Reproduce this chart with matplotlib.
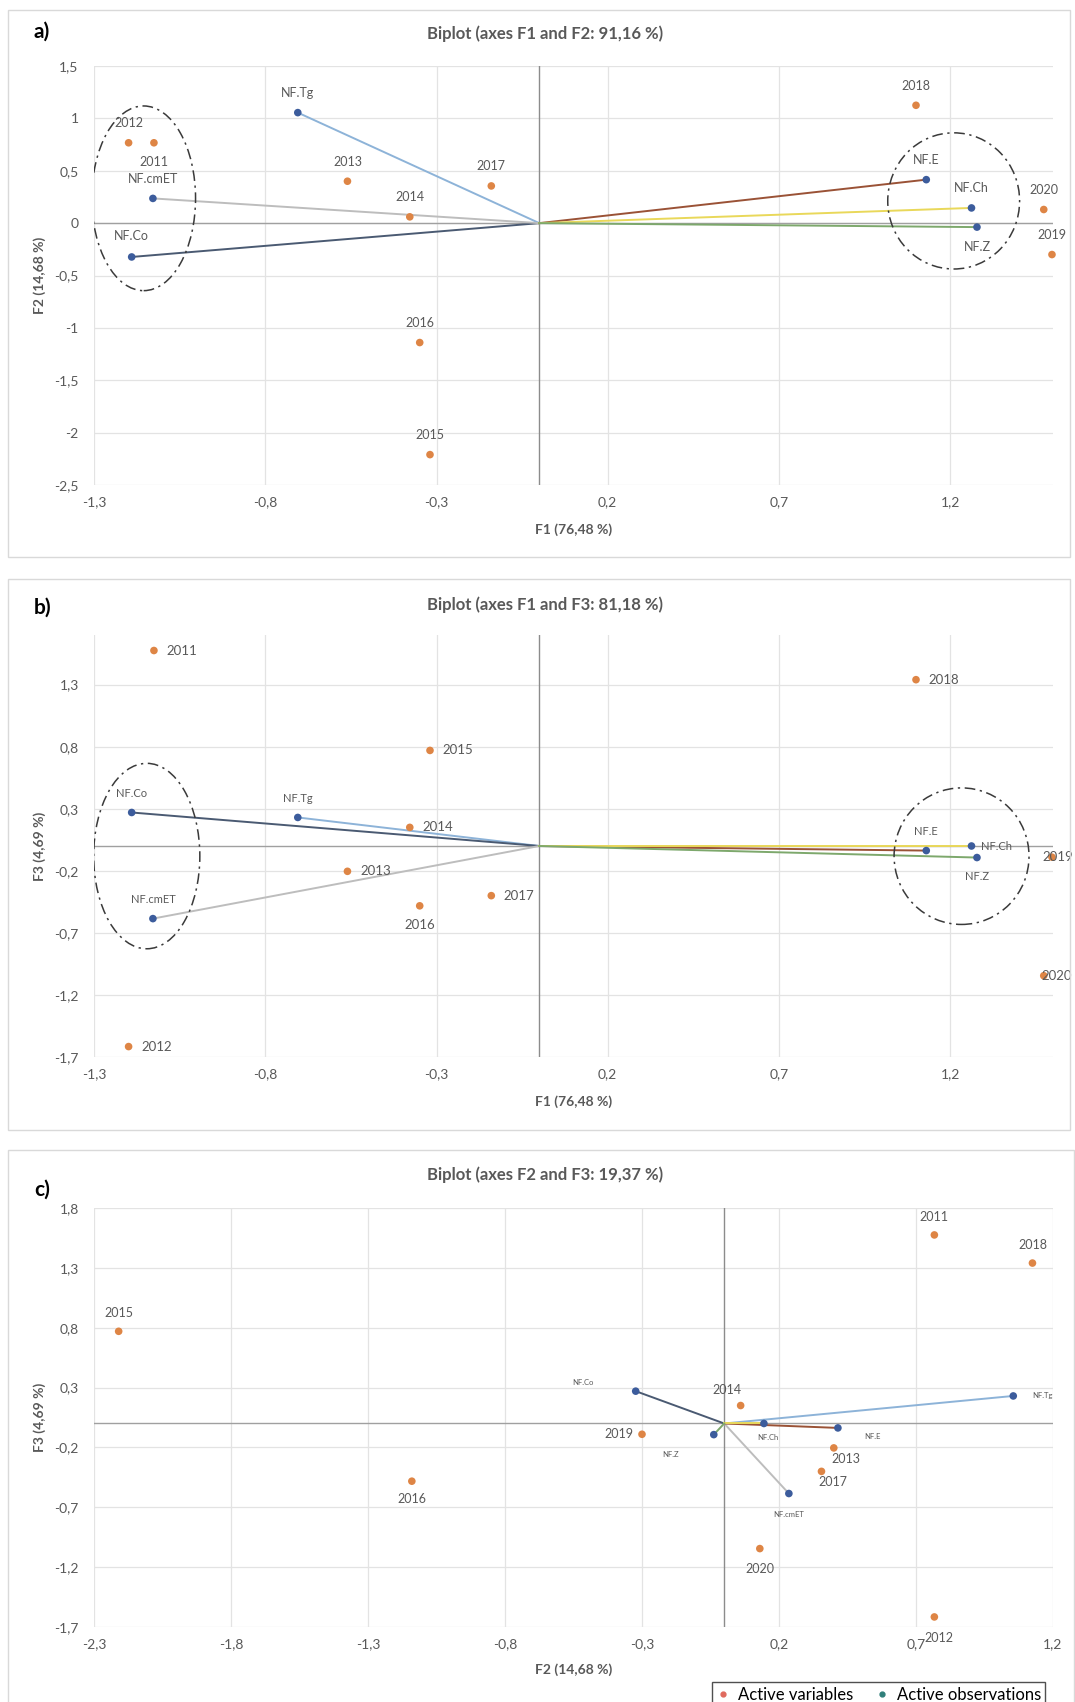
import matplotlib
matplotlib.use('Agg')
import matplotlib.pyplot as plt
import numpy as np
from matplotlib.patches import Ellipse, Rectangle
from matplotlib.lines import Line2D
from matplotlib.ticker import FuncFormatter

plt.rcParams['font.family'] = ['Lato', 'DejaVu Sans']

# observations (years) on the three factors
years = ['2011', '2012', '2013', '2014', '2015', '2016', '2017', '2018', '2019', '2020']
obs_f1 = [-1.125, -1.199, -0.560, -0.378, -0.319, -0.349, -0.140, 1.100, 1.497, 1.473]
obs_f2 = [0.767, 0.767, 0.400, 0.060, -2.210, -1.140, 0.355, 1.125, -0.300, 0.130]
obs_f3 = [1.575, -1.616, -0.204, 0.150, 0.770, -0.482, -0.400, 1.340, -0.090, -1.045]

# variables on the three factors
variables = ['NF.Tg', 'NF.Co', 'NF.cmET', 'NF.E', 'NF.Ch', 'NF.Z']
var_f1 = [-0.705, -1.190, -1.128, 1.130, 1.262, 1.278]
var_f2 = [1.055, -0.323, 0.236, 0.415, 0.145, -0.038]
var_f3 = [0.230, 0.270, -0.585, -0.037, 0.000, -0.093]

titles = ['Biplot (axes F1 and F2: 91,16 %)',
          'Biplot (axes F1 and F3: 81,18 %)',
          'Biplot (axes F2 and F3: 19,37 %)']
xlabels = ['F1 (76,48 %)', 'F1 (76,48 %)', 'F2 (14,68 %)']
ylabels = ['F2 (14,68 %)', 'F3 (4,69 %)', 'F3 (4,69 %)']
panel_tags = ['a)', 'b)', 'c)']

OBS_COL = '#DE8545'
VAR_COL = '#3C5C9C'
GRID = '#E3E3E3'
TXT = '#595959'
vec_colors = {'NF.Tg': '#8DB3D8', 'NF.Co': '#4A5A72', 'NF.cmET': '#BDBDBD',
              'NF.E': '#9A5236', 'NF.Ch': '#E9D85A', 'NF.Z': '#7DA86C'}

W, H = 1075, 1702
fig = plt.figure(figsize=(W / 100, H / 100), dpi=100)


def px_box(l, t, r, b):
    return [l / W, 1 - b / H, (r - l) / W, (b - t) / H]


def fmt(v, pos):
    return f"{round(v, 2) + 0.0:g}".replace('.', ',')


def ticks(lo, hi):
    return np.round(np.arange(lo, hi + 1e-6, 0.5), 2)


# label offsets in points: name -> (dx, dy, ha)
up = (0, 14, 'center')
down = (0, -14, 'center')
offs_a = {n: up for n in years + variables}
offs_a.update({'2011': down, 'NF.Z': down, 'NF.Co': (0, 15, 'center')})
right = (9, 0, 'left')
offs_b = {n: right for n in years}
offs_b.update({n: up for n in variables})
offs_b.update({'2016': down, 'NF.Z': down, 'NF.Ch': (7, 0, 'left'),
               '2020': (-1.5, 0, 'left'), '2019': (-7, 0, 'left')})
offs_c = {'2015': (0, 13, 'center'), '2016': (0, -13, 'center'), '2011': (0, 13, 'center'),
          '2018': (0, 13, 'center'), '2014': (-10, 11, 'center'), '2019': (-6, 0, 'right'),
          '2013': (9, -8, 'center'), '2017': (8, -8, 'center'), '2020': (0, -15, 'center'),
          '2012': (3, -15, 'center'), 'NF.Co': (-38, 6, 'center'), 'NF.Tg': (14, 0, 'left'),
          'NF.Ch': (3, -10, 'center'), 'NF.E': (25, -6, 'center'), 'NF.Z': (-31, -14, 'center'),
          'NF.cmET': (0, -15, 'center')}

panels = [
    dict(box=(94, 66, 1053, 485), frame=(8, 10, 1070, 557), ox=obs_f1, oy=obs_f2,
         vx=var_f1, vy=var_f2, xlim=(-1.3, 1.5), ylim=(-2.5, 1.5),
         xt=ticks(-1.3, 1.5), yt=ticks(-2.5, 1.5), offs=offs_a,
         obs_fs=9, var_fs=9, tag_y=32, title_y=34, xlab_y=530,
         ellipses=[(-1.155, 0.237, 0.303, 1.763), (1.21, 0.212, 0.385, 1.30)]),
    dict(box=(94, 635, 1053, 1057), frame=(8, 579, 1070, 1130), ox=obs_f1, oy=obs_f3,
         vx=var_f1, vy=var_f3, xlim=(-1.3, 1.5), ylim=(-1.7, 1.7),
         xt=ticks(-1.3, 1.5), yt=ticks(-1.7, 1.7), offs=offs_b,
         obs_fs=9.5, var_fs=8, tag_y=608, title_y=605, xlab_y=1102,
         ellipses=[(-1.146, -0.081, 0.31, 1.494), (1.233, -0.082, 0.394, 1.10)]),
    dict(box=(94, 1208, 1053, 1627), frame=(8, 1150, 1074, 1712), ox=obs_f2, oy=obs_f3,
         vx=var_f2, vy=var_f3, xlim=(-2.3, 1.2), ylim=(-1.7, 1.8),
         xt=ticks(-2.3, 1.2), yt=ticks(-1.7, 1.8), offs=offs_c,
         obs_fs=9, var_fs=5.5, tag_y=1190, title_y=1175, xlab_y=1670,
         ellipses=[]),
]

for i, p in enumerate(panels):
    l, t, r, b = p['frame']
    fig.patches.append(Rectangle((l / W, 1 - b / H), (r - l) / W, (b - t) / H,
                                 transform=fig.transFigure, fill=False,
                                 edgecolor='#D9D9D9', lw=1.0))

    ax = fig.add_axes(px_box(*p['box']))
    ax.set_xlim(p['xlim'])
    ax.set_ylim(p['ylim'])
    ax.set_xticks(p['xt'])
    ax.set_yticks(p['yt'])
    ax.xaxis.set_major_formatter(FuncFormatter(fmt))
    ax.yaxis.set_major_formatter(FuncFormatter(fmt))
    ax.grid(True, color=GRID, lw=0.9)
    ax.set_axisbelow(True)
    for s in ax.spines.values():
        s.set_visible(False)
    ax.tick_params(axis='both', length=0, labelsize=10, labelcolor=TXT)
    ax.tick_params(axis='x', pad=8)
    ax.tick_params(axis='y', pad=11)
    ax.axhline(0, color='#A0A0A0', lw=1.0, zorder=1)
    ax.axvline(0, color='#8C8C8C', lw=1.0, zorder=1)

    for name, x, y in zip(variables, p['vx'], p['vy']):
        ax.plot([0, x], [0, y], color=vec_colors[name], lw=1.4, zorder=2)

    for cx, cy, w, h in p['ellipses']:
        ax.add_patch(Ellipse((cx, cy), w, h, fill=False, ec='#3A3A3A', lw=1.1,
                             ls=(0, (7, 3, 1.5, 3)), zorder=3))

    ax.scatter(p['ox'], p['oy'], s=30, color=OBS_COL, edgecolors='none', zorder=4, clip_on=False)
    ax.scatter(p['vx'], p['vy'], s=30, color=VAR_COL, edgecolors='none', zorder=4, clip_on=False)

    for names, xs, ys, fs in [(years, p['ox'], p['oy'], p['obs_fs']),
                              (variables, p['vx'], p['vy'], p['var_fs'])]:
        for name, x, y in zip(names, xs, ys):
            dx, dy, ha = p['offs'][name]
            ax.annotate(name, (x, y), xytext=(dx, dy), textcoords='offset points',
                        ha=ha, va='center', fontsize=fs, color=TXT, zorder=5,
                        annotation_clip=False)

    fig.text(34 / W, 1 - p['tag_y'] / H, panel_tags[i], fontsize=15, fontweight='bold',
             ha='left', va='center', color='black')
    fig.text(545 / W, 1 - p['title_y'] / H, titles[i], fontsize=12, fontweight='bold',
             ha='center', va='center', color=TXT)
    pl, pt, pr, pb = p['box']
    fig.text((pl + pr) / 2 / W, 1 - p['xlab_y'] / H, xlabels[i], fontsize=10,
             fontweight='bold', ha='center', va='center', color=TXT)
    fig.text(40 / W, 1 - (pt + pb) / 2 / H, ylabels[i], fontsize=10, fontweight='bold',
             ha='center', va='center', rotation=90, color=TXT)

handles = [Line2D([], [], ls='none', marker='o', ms=3.5, color='#E06A5E'),
           Line2D([], [], ls='none', marker='o', ms=3.5, color='#2F7F7A')]
fig.legend(handles, ['Active variables', 'Active observations'], loc='upper left',
           bbox_to_anchor=(704 / W, 1 - 1674 / H), ncol=2, fontsize=12,
           frameon=True, fancybox=False, edgecolor='#505050', framealpha=1,
           handlelength=0.8, handletextpad=0.5, columnspacing=1.3,
           borderpad=0.25)

fig.savefig('out.png', dpi=100)
